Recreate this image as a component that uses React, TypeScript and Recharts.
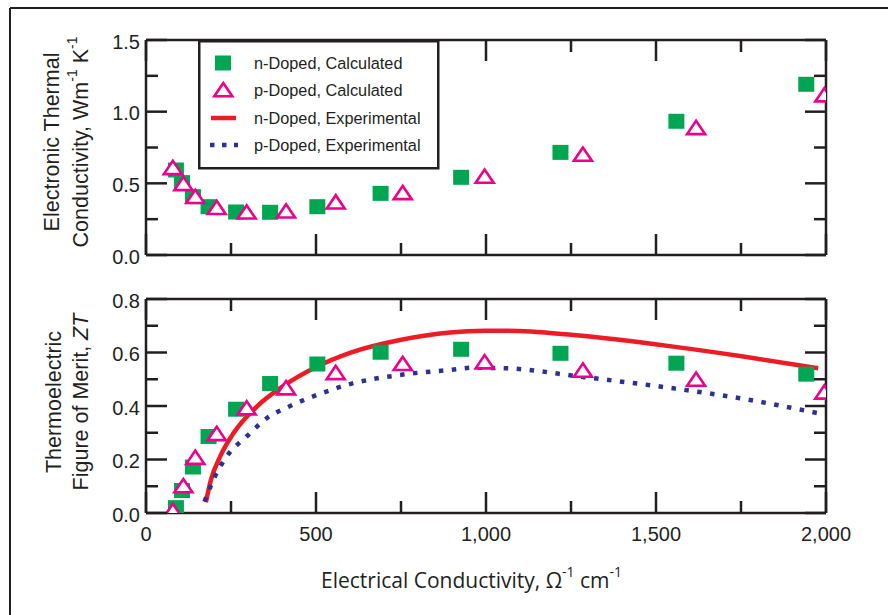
import React from 'react';
import { ComposedChart, Scatter, Line, XAxis, YAxis } from 'recharts';

// ---------- data ----------
const nX = [88, 106, 138, 184, 265, 365, 504, 690, 927, 1219, 1560, 1942];
const pX = [79, 110, 145, 208, 296, 412, 558, 755, 996, 1285, 1618, 1995];
const nKappa = [0.593, 0.505, 0.407, 0.337, 0.3, 0.298, 0.337, 0.43, 0.542, 0.716, 0.933, 1.191];
const pKappa = [0.612, 0.5, 0.41, 0.333, 0.302, 0.309, 0.372, 0.437, 0.551, 0.705, 0.891, 1.119];
const nZT = [0.02, 0.084, 0.172, 0.286, 0.388, 0.484, 0.557, 0.601, 0.612, 0.597, 0.56, 0.519];
const pZT = [0.01, 0.103, 0.209, 0.298, 0.394, 0.469, 0.526, 0.56, 0.566, 0.535, 0.501, 0.453];
const nExpX = [176, 191, 218, 257, 326, 404, 502, 600, 747, 894, 997, 1061, 1257, 1551, 1747, 1977];
const nExpZT = [0.04, 0.124, 0.211, 0.298, 0.398, 0.475, 0.547, 0.599, 0.647, 0.675, 0.681, 0.681, 0.665, 0.622, 0.587, 0.541];
const pExpX = [172, 203, 237, 296, 355, 424, 502, 600, 747, 894, 963, 1061, 1276, 1551, 1747, 1977];
const pExpZT = [0.043, 0.137, 0.211, 0.286, 0.354, 0.4, 0.441, 0.482, 0.516, 0.535, 0.543, 0.541, 0.51, 0.466, 0.429, 0.373];

const xTicks = [0, 250, 500, 750, 1000, 1250, 1500, 1750, 2000];
const xTickLabels = ['0', '', '500', '', '1,000', '', '1,500', '', '2,000'];
const kTicks = [0, 0.25, 0.5, 0.75, 1, 1.25, 1.5];
const kTickLabels = ['0.0', '', '0.5', '', '1.0', '', '1.5'];
const ztTicks = [0, 0.1, 0.2, 0.3, 0.4, 0.5, 0.6, 0.7, 0.8];
const ztTickLabels = ['0.0', '', '0.2', '', '0.4', '', '0.6', '', '0.8'];

const legendLabels = ['n-Doped, Calculated', 'p-Doped, Calculated', 'n-Doped, Experimental', 'p-Doped, Experimental'];

// ---------- styles ----------
const AX = '#231F20';
const GREEN = '#00A651';
const MAGENTA = '#EC008C';
const RED = '#ED1C24';
const BLUE = '#2E3192';
const TICK_FONT = '"Liberation Sans", Arial, sans-serif';
const MAJOR = 21;
const MINOR = 12;

const toPts = (xs: number[], ys: number[]) => xs.map((x, i) => ({ x, y: ys[i] }));
const nKappaData = toPts(nX, nKappa);
const pKappaData = toPts(pX, pKappa);
const nZTData = toPts(nX, nZT);
const pZTData = toPts(pX, pZT);
const nExpData = toPts(nExpX, nExpZT);
const pExpData = toPts(pExpX, pExpZT);

function makeTick(side: string, ticks: number[], labels: string[], showLabel: boolean) {
  return (props: any) => {
    const { x, y, payload } = props;
    const idx = ticks.findIndex((t) => Math.abs(t - payload.value) < 1e-9);
    const label = idx >= 0 ? labels[idx] : '';
    const len = label !== '' ? MAJOR : MINOR;
    if (side === 'bottom') {
      return (
        <g>
          <line x1={x} y1={y} x2={x} y2={y - len} stroke={AX} strokeWidth={2.5} />
          {showLabel && label !== '' && (
            <text x={x} y={y + 14} dy="0.71em" textAnchor="middle" fontSize={20} fontFamily={TICK_FONT} fill={AX}>{label}</text>
          )}
        </g>
      );
    }
    if (side === 'top') {
      return <line x1={x} y1={y} x2={x} y2={y + len} stroke={AX} strokeWidth={2.5} />;
    }
    if (side === 'left') {
      return (
        <g>
          <line x1={x} y1={y} x2={x + len} y2={y} stroke={AX} strokeWidth={2.5} />
          {showLabel && label !== '' && (
            <text x={x - 6} y={y + 1.5} dy="0.355em" textAnchor="end" fontSize={20} fontFamily={TICK_FONT} fill={AX}>{label}</text>
          )}
        </g>
      );
    }
    return <line x1={x} y1={y} x2={x - len} y2={y} stroke={AX} strokeWidth={2.5} />;
  };
}

const Square = (p: any) => <rect x={p.cx - 8} y={p.cy - 7.5} width={16} height={15} fill={GREEN} />;
const Triangle = (p: any) => (
  <polygon
    points={`${p.cx},${p.cy - 6.5} ${p.cx - 9},${p.cy + 6.8} ${p.cx + 9},${p.cy + 6.8}`}
    fill="#fff"
    stroke={MAGENTA}
    strokeWidth={2.6}
  />
);

const axisLine = { stroke: AX, strokeWidth: 2.5 };

function frameAxes(yDomain: number[], yTicks: number[], yLabels: string[], showXLabels: boolean) {
  return [
    <XAxis key="xb" xAxisId="b" dataKey="x" type="number" domain={[0, 2000]} ticks={xTicks} interval={0} height={1}
      tickSize={0} tickMargin={0} axisLine={axisLine} tickLine={false} allowDataOverflow
      tick={makeTick('bottom', xTicks, xTickLabels, showXLabels)} />,
    <XAxis key="xt" xAxisId="t" orientation="top" dataKey="x" type="number" domain={[0, 2000]} ticks={xTicks} interval={0} height={1}
      tickSize={0} tickMargin={0} axisLine={axisLine} tickLine={false} allowDataOverflow
      tick={makeTick('top', xTicks, xTickLabels, false)} />,
    <YAxis key="yl" yAxisId="l" dataKey="y" type="number" domain={yDomain} ticks={yTicks} interval={0} width={1}
      tickSize={0} tickMargin={0} axisLine={axisLine} tickLine={false} allowDataOverflow
      tick={makeTick('left', yTicks, yLabels, true)} />,
    <YAxis key="yr" yAxisId="r" orientation="right" dataKey="y" type="number" domain={yDomain} ticks={yTicks} interval={0} width={1}
      tickSize={0} tickMargin={0} axisLine={axisLine} tickLine={false} allowDataOverflow
      tick={makeTick('right', yTicks, yLabels, false)} />,
  ];
}

export default function App() {
  const W = 888;
  return (
    <div style={{ position: 'absolute', left: 0, top: 0, width: W, height: 615, background: '#fff' }}>
      <div style={{ position: 'absolute', left: 0, top: 0 }}>
        <ComposedChart width={W} height={280} margin={{ top: 39, right: 61, bottom: 24, left: 145 }}>
          {frameAxes([0, 1.5], kTicks, kTickLabels, false)}
          <Scatter xAxisId="b" yAxisId="l" data={nKappaData} dataKey="y" shape={Square} isAnimationActive={false} />
          <Scatter xAxisId="b" yAxisId="l" data={pKappaData} dataKey="y" shape={Triangle} isAnimationActive={false} />
          <Scatter xAxisId="t" yAxisId="r" data={[]} dataKey="y" isAnimationActive={false} />
        </ComposedChart>
      </div>
      <div style={{ position: 'absolute', left: 0, top: 275 }}>
        <ComposedChart width={W} height={340} margin={{ top: 23, right: 61, bottom: 101, left: 145 }}>
          {frameAxes([0, 0.8], ztTicks, ztTickLabels, true)}
          <Line xAxisId="b" yAxisId="l" data={nExpData} dataKey="y" type="monotone" stroke={RED} strokeWidth={4.5}
            dot={false} activeDot={false} isAnimationActive={false} />
          <Line xAxisId="b" yAxisId="l" data={pExpData} dataKey="y" type="monotone" stroke={BLUE} strokeWidth={4.5}
            strokeDasharray="4.5 8.5" dot={false} activeDot={false} isAnimationActive={false} />
          <Scatter xAxisId="b" yAxisId="l" data={nZTData} dataKey="y" shape={Square} isAnimationActive={false} />
          <Scatter xAxisId="b" yAxisId="l" data={pZTData} dataKey="y" shape={Triangle} isAnimationActive={false} />
          <Scatter xAxisId="t" yAxisId="r" data={[]} dataKey="y" isAnimationActive={false} />
        </ComposedChart>
      </div>

      {/* legend */}
      <svg width={242} height={130} style={{ position: 'absolute', left: 198, top: 40 }}>
        <rect x={1.25} y={1.25} width={239} height={127} fill="#fff" stroke={AX} strokeWidth={2.5} />
        <rect x={17} y={15.5} width={16} height={15} fill={GREEN} />
        <polygon points="25.3,43 16.3,56.3 34.3,56.3" fill="#fff" stroke={MAGENTA} strokeWidth={2.6} />
        <line x1={13} y1={78} x2={38} y2={78} stroke={RED} strokeWidth={4.5} />
        <line x1={12} y1={105} x2={40} y2={105} stroke={BLUE} strokeWidth={4.5} strokeDasharray="4.5 7.5" />
        {legendLabels.map((t, i) => (
          <text key={t} x={56} y={[23, 50, 78, 105][i]} dy="0.36em" fontSize={16.3} fontFamily={TICK_FONT} fill={AX}>{t}</text>
        ))}
      </svg>

      {/* frame and titles */}
      <svg width={W} height={615} style={{ position: 'absolute', left: 0, top: 0, pointerEvents: 'none' }}>
        <line x1={10} y1={8} x2={888} y2={8} stroke={AX} strokeWidth={2} />
        <line x1={10} y1={8} x2={10} y2={615} stroke={AX} strokeWidth={2} />
        <g fontFamily={TICK_FONT} fontSize={21.5} fill={AX} textAnchor="middle">
          <text transform="translate(52,142) rotate(-90)" dominantBaseline="central">Electronic Thermal</text>
          <text transform="translate(81,142) rotate(-90)" dominantBaseline="central">
            Conductivity, Wm<tspan fontSize={14} dy={-9}>-1</tspan><tspan dy={9}> K</tspan><tspan fontSize={14} dy={-9}>-1</tspan>
          </text>
          <text transform="translate(54,402) rotate(-90)" dominantBaseline="central">Thermoelectric</text>
          <text transform="translate(81,402) rotate(-90)" dominantBaseline="central">
            Figure of Merit, <tspan fontStyle="italic">ZT</tspan>
          </text>
        </g>
        <text x={321} y={588} fontFamily='"Open Sans", sans-serif' fontSize={21} fill={AX}>
          Electrical Conductivity, Ω<tspan fontSize={14} dy={-11}>-1</tspan><tspan dy={11}> cm</tspan><tspan fontSize={14} dy={-11}>-1</tspan>
        </text>
      </svg>
    </div>
  );
}
